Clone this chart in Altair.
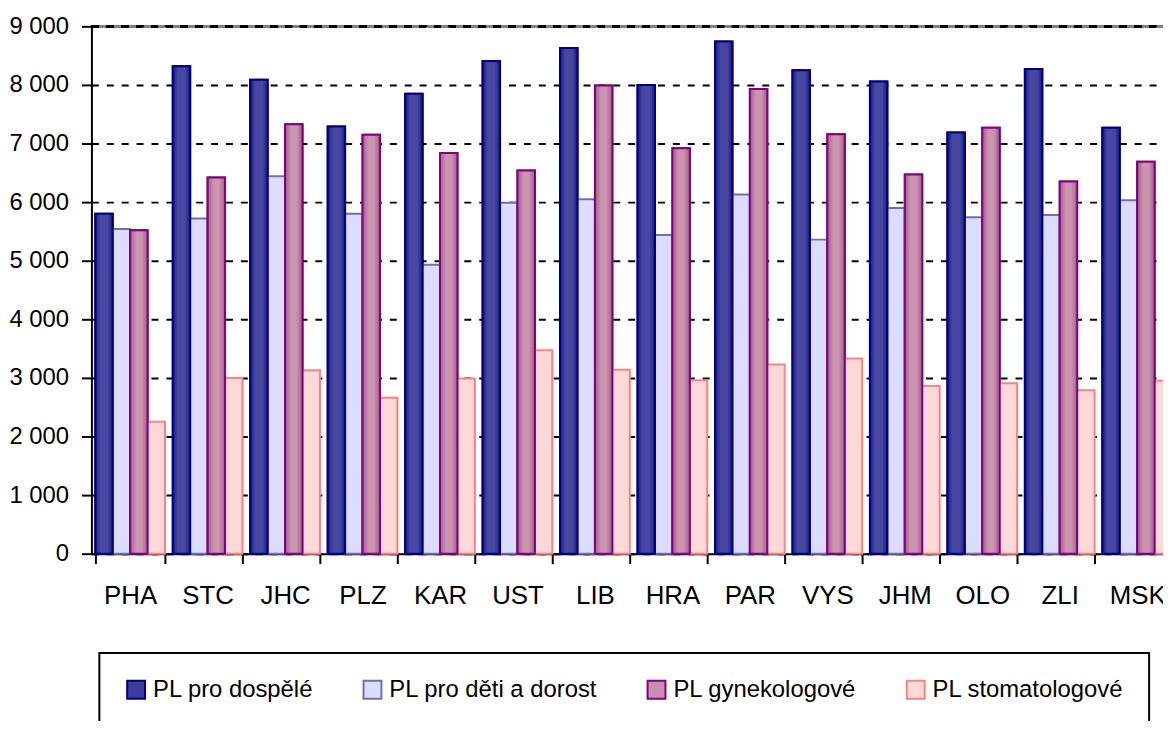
import altair as alt
import pandas as pd

regions = ["PHA", "STC", "JHC", "PLZ", "KAR", "UST", "LIB", "HRA", "PAR", "VYS", "JHM", "OLO", "ZLI", "MSK"]
series = ["PL pro dospělé", "PL pro děti a dorost", "PL gynekologové", "PL stomatologové"]

adult = [5800, 8320, 8090, 7290, 7850, 8410, 8630, 8000, 8740, 8250, 8060, 7190, 8270, 7270]
children = [5540, 5720, 6440, 5800, 4930, 5990, 6050, 5440, 6130, 5360, 5900, 5740, 5780, 6030]
gynecology = [5520, 6420, 7330, 7150, 6840, 6540, 7990, 6920, 7930, 7160, 6470, 7270, 6350, 6690]
dentistry = [2250, 3000, 3130, 2660, 2990, 3470, 3140, 2960, 3230, 3330, 2860, 2910, 2790, 2950]

y_ticks = [0, 1000, 2000, 3000, 4000, 5000, 6000, 7000, 8000, 9000]

fill_colors = ["#3c3c9c", "#dcdcff", "#c890ac", "#ffd8d8"]
stroke_colors = ["#000080", "#7070a8", "#800080", "#ff8080"]

values = [adult, children, gynecology, dentistry]
rows = []
for s, vals in zip(series, values):
    for r, v in zip(regions, vals):
        rows.append({"region": r, "series": s, "value": v})
df = pd.DataFrame(rows)

FONT = "Liberation Sans"

x_enc = alt.X(
    "region:N",
    sort=regions,
    scale=alt.Scale(range=[0, 1092], paddingInner=0.1, paddingOuter=0.05),
    axis=alt.Axis(
        title=None,
        labelAngle=0,
        labelFontSize=26,
        labelColor="black",
        labelPadding=19,
        tickBand="extent",
        tickSize=10,
        tickWidth=2,
        tickColor="black",
        domainColor="black",
        domainWidth=2,
        grid=False,
    ),
)
xo_enc = alt.XOffset("series:N", sort=series, scale=alt.Scale(domain=series, paddingInner=0, paddingOuter=0))
y_enc = alt.Y(
    "value:Q",
    scale=alt.Scale(domain=[0, 9000], nice=False),
    axis=alt.Axis(
        title=None,
        values=y_ticks,
        labelExpr="replace(format(datum.value, ','), ',', ' ')",
        labelFontSize=24,
        labelColor="black",
        labelPadding=13,
        tickSize=10,
        tickWidth=2,
        tickColor="black",
        domainColor="black",
        domainWidth=2,
        grid=True,
        gridColor="black",
        gridWidth=2,
        gridDash=[7, 8],
    ),
)

base = alt.Chart(df).mark_bar(strokeWidth=2).encode(
    x=x_enc,
    xOffset=xo_enc,
    y=y_enc,
    fill=alt.Fill(
        "series:N",
        sort=series,
        scale=alt.Scale(domain=series, range=fill_colors),
        legend=alt.Legend(title=None),
    ),
    stroke=alt.Stroke(
        "series:N",
        sort=series,
        scale=alt.Scale(domain=series, range=stroke_colors),
        legend=alt.Legend(title=None),
    ),
)

grad_adult = alt.LinearGradient(
    gradient="linear", x1=0, x2=1, y1=0, y2=0,
    stops=[
        alt.GradientStop(color="#1a1a80", offset=0),
        alt.GradientStop(color="#4848a2", offset=0.3),
        alt.GradientStop(color="#4848a2", offset=0.7),
        alt.GradientStop(color="#1a1a80", offset=1),
    ],
)
grad_gyn = alt.LinearGradient(
    gradient="linear", x1=0, x2=1, y1=0, y2=0,
    stops=[
        alt.GradientStop(color="#a06088", offset=0),
        alt.GradientStop(color="#cc94b0", offset=0.35),
        alt.GradientStop(color="#cc94b0", offset=0.65),
        alt.GradientStop(color="#a06088", offset=1),
    ],
)

over_adult = alt.Chart(df).transform_filter(
    alt.datum.series == series[0]
).mark_bar(fill=grad_adult, stroke=stroke_colors[0], strokeWidth=2).encode(
    x=alt.X("region:N", sort=regions), xOffset=xo_enc, y=alt.Y("value:Q")
)
over_gyn = alt.Chart(df).transform_filter(
    alt.datum.series == series[2]
).mark_bar(fill=grad_gyn, stroke=stroke_colors[2], strokeWidth=2).encode(
    x=alt.X("region:N", sort=regions), xOffset=xo_enc, y=alt.Y("value:Q")
)

top_gray = alt.Chart(df).mark_rule(color="#808080", strokeWidth=2).encode(
    y=alt.datum(9000), x=alt.value(0), x2=alt.value(1079)
)
top_dash = alt.Chart(df).mark_rule(color="black", strokeWidth=2, strokeDash=[7, 8]).encode(
    y=alt.datum(9000), x=alt.value(0), x2=alt.value(1079)
)

chart = alt.layer(top_gray, top_dash, base, over_adult, over_gyn).properties(
    width=1079,
    height=531,
    autosize=alt.AutoSizeParams(type="none"),
    padding={"left": 84, "top": 16, "right": 0, "bottom": 166},
).configure(
    font=FONT,
).configure_view(
    stroke=None,
).configure_legend(
    orient="none",
    legendX=8,
    legendY=631,
    direction="horizontal",
    strokeColor="black",
    strokeWidth=2,
    padding=25,
    columnPadding=46,
    symbolType="square",
    symbolSize=324,
    symbolStrokeWidth=2,
    labelFontSize=24,
    labelFont=FONT,
    labelColor="black",
    labelOffset=5,
    labelLimit=400,
)

chart.save("out.html", embed_options={"renderer": "svg", "actions": False})
